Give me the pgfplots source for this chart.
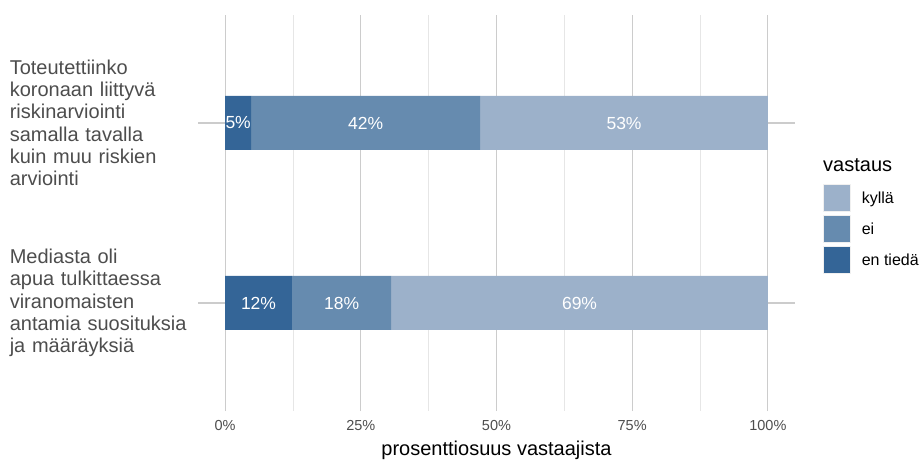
\documentclass[border=0pt]{standalone}
\usepackage{pgfplots}
\pgfplotsset{compat=1.18}
\usepackage{fontspec}
\setmainfont{Liberation Sans}
\definecolor{entieda}{HTML}{346597}
\definecolor{ei}{HTML}{668BAF}
\definecolor{kylla}{HTML}{9CB1CA}
\definecolor{gridmajor}{HTML}{CCCCCC}
\definecolor{gridminor}{HTML}{E6E6E6}
\definecolor{txt}{HTML}{4D4D4D}

\begin{document}
\begin{tikzpicture}
\path[use as bounding box] (0,0) rectangle (923bp,461bp);
\begin{axis}[
  at={(198bp,50bp)}, anchor=south west,
  scale only axis, width=597bp, height=396bp,
  xbar stacked, bar width=0.3,
  xmin=-5, xmax=105, ymin=-0.6, ymax=1.6,
  axis line style={draw=none},
  major tick style={draw=none}, minor tick style={draw=none},
  xtick={0,25,50,75,100},
  xticklabels={0\%,25\%,50\%,75\%,100\%},
  minor xtick={12.5,37.5,62.5,87.5},
  ytick={0,1},
  yticklabels={{Mediasta oli\\apua tulkittaessa\\viranomaisten\\antamia suosituksia\\ja määräyksiä},
               {Toteutettiinko\\koronaan liittyvä\\riskinarviointi\\samalla tavalla\\kuin muu riskien\\arviointi}},
  grid=both,
  major grid style={draw=gridmajor, line width=1.1bp},
  minor grid style={draw=gridminor, line width=0.7bp},
  xticklabel style={font=\fontsize{14.5bp}{17bp}\selectfont, text=txt, inner sep=0pt, yshift=-9bp},
  yticklabel style={font=\fontsize{20bp}{22.3bp}\selectfont, text=txt, anchor=east,
                    text width=185bp, align=left, inner sep=0pt, xshift=-3bp},
  xlabel={prosenttiosuus vastaajista},
  x label style={at={(rel axis cs:0.5,0)}, anchor=base, yshift=-44bp,
                 font=\fontsize{20bp}{24bp}\selectfont, inner sep=0pt},
  /pgf/number format/assume math mode=true,
  visualization depends on={rawx \as \rawx},
  nodes near coords={\pgfmathprintnumber[fixed,precision=0]{\rawx}\%},
  every node near coord/.append style={anchor=center, text=white, inner sep=0pt,
                 font=\fontsize{17.5bp}{20bp}\selectfont},
  reverse legend,
  legend cell align=left,
  legend style={at={(rel axis cs:1.0469,0.5732)}, anchor=north west, draw=none, fill=none,
                inner sep=0pt, outer sep=0pt, row sep=3bp,
                font=\fontsize{16bp}{19bp}\selectfont,
                nodes={inner ysep=0pt, inner xsep=11bp, text height=14bp, text depth=3bp}},
  legend image code/.code={\draw[#1, draw=black!6, line width=0.8bp] (0bp,-13.5bp) rectangle (27bp,13.5bp);},
]
\addplot[fill=entieda, draw=none] coordinates {(12.3,0) (4.8,1)};
\addlegendentry{en tiedä}
\addplot[fill=ei, draw=none] coordinates {(18.3,0) (42.2,1)};
\addlegendentry{ei}
\addplot[fill=kylla, draw=none] coordinates {(69.4,0) (53.0,1)};
\addlegendentry{kyllä}
\end{axis}
\node[anchor=base west, inner sep=0pt, font=\fontsize{20bp}{24bp}\selectfont] at (823bp,289bp) {vastaus};
\end{tikzpicture}
\end{document}
